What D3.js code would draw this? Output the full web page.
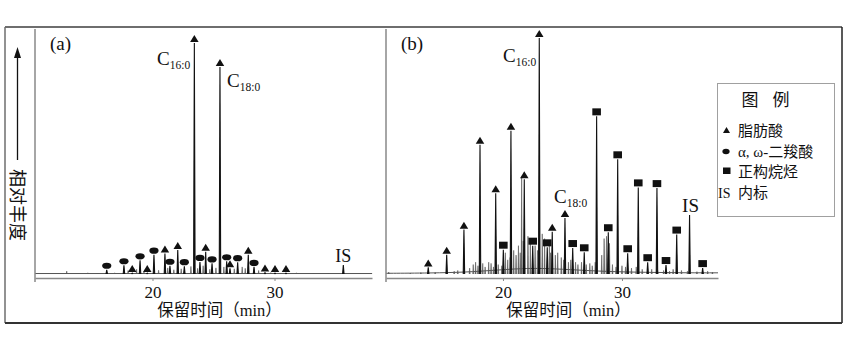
<!DOCTYPE html>
<html><head><meta charset="utf-8">
<script src="https://cdn.jsdelivr.net/npm/d3@7"></script>
<style>
body{margin:0;background:#fff}
svg{display:block}
text{font-family:"Liberation Serif","Noto Sans CJK SC",serif;fill:#111}
.cjk{font-family:"Liberation Serif","Noto Sans CJK SC",sans-serif}
</style></head>
<body><svg id="c" width="848" height="350"></svg>
<script>
// ---------- data (retention time min, relative abundance %) ----------
const tickValues = [20, 30];
const xTitle = "保留时间（min）";
const yTitle = "相对丰度";
const legendTitle = ["图", "例"];
const legendLabels = ["脂肪酸", "α, ω-二羧酸", "正构烷烃", "内标"];

// panel (a)
const aFattyAcid = [[18.34,0.4],[19.57,0.4],[21.02,8.7],[22.07,10.2],[23.43,97.9],[24.36,9.4],[25.53,87.7],[26.35,2.4],[27.85,8.2],[29.22,0.6],[30.04,0.4],[30.94,0.4]];
const aDiacid = [[16.25,1.8],[17.66,3.7],[18.98,5.8],[20.12,8.2],[21.43,3.5],[22.61,3.3],[23.89,5.1],[24.88,4.5],[26.08,5.4],[26.98,5.0],[28.32,3.0]];
const aIS = [[35.64,3.8]];
const aMinor = [[12.97,1.2],[14.7,0.5],[15.5,0.4],[16.9,0.5],[18.0,1.5],[18.7,2.0],[19.3,1.0],[20.5,1.6],[21.25,2.6],[21.75,1.8],[22.35,2.2],[23.15,3.2],[23.7,2.4],[24.15,3.5],[24.7,2.0],[25.2,2.6],[25.85,3.0],[26.7,2.2],[27.35,3.0],[27.6,2.4],[28.7,1.5],[29.7,0.6],[31.8,0.5],[33.2,0.4],[34.4,0.4],[37.0,0.4]];
const aBase = [[10.37,0.2],[38.0,0.2]];

// panel (b)
const bFattyAcid = [[13.72,2.8],[15.27,8.2],[16.72,18.8],[18.07,54.8],[19.39,34.2],[20.67,60.7],[21.79,40.1],[23.05,100],[24.14,17.9],[25.21,23.7]];
const bAlkane = [[20.03,10.3],[22.5,12.0],[23.72,11.3],[25.86,11.0],[26.83,9.2],[27.87,66.8],[28.85,17.7],[29.64,48.6],[30.48,8.8],[31.37,36.7],[32.16,5.0],[32.94,36.4],[33.7,3.8],[34.6,16.7],[36.78,2.5]];
const bIS = [[35.68,25]];
const bMinor = [[10.4,0.8],[12.2,0.4],[13.1,0.6],[14.3,0.7],[15.9,1.2],[16.2,1.5],[17.2,2.5],[17.5,4],[17.7,5],[17.9,3.5],[18.3,4.5],[18.5,3],[18.8,5],[19.0,4.5],[19.2,3],[19.6,4],[19.9,3.5],[20.2,9],[20.4,6],[20.6,7],[20.9,10],[21.1,8],[21.3,12],[21.45,9],[21.57,41.2],[21.7,14],[22.1,16],[22.3,13],[22.7,12],[22.9,10],[23.3,17],[23.5,15],[23.9,12],[24.0,9],[24.4,8],[24.6,9],[24.9,7],[25.1,6],[25.5,5],[25.7,6],[26.1,5],[26.3,4],[26.6,5],[27.0,4],[27.3,4.5],[27.5,3.5],[27.75,5],[28.3,8],[28.5,15],[28.7,16],[28.95,13],[29.2,4],[29.5,3],[30.0,3.5],[30.3,3],[30.8,2.5],[31.2,3],[31.7,2],[32.5,2],[33.0,1.5],[33.5,1.5],[34.0,1.2],[34.3,2],[35.0,1.5],[35.5,1.2],[36.3,1],[37.2,1.2],[37.6,0.8]];
const bBase = [[10.17,0.3],[14,0.4],[17,0.8],[19,1.5],[21,2.2],[23,2.5],[25,2.0],[27,1.5],[29,1.0],[32,0.7],[35,0.5],[38.07,0.5]];

// ---------- drawing ----------
const svg = d3.select("#c");
const y = d3.scaleLinear().domain([0, 100]).range([274, 38]);
const xA = d3.scaleLinear().domain([10.37, 37.99]).range([35, 372]);
const xB = d3.scaleLinear().domain([10.17, 38.07]).range([386, 718]);

// outer frame
svg.append("line").attr("x1",5).attr("y1",27).attr("x2",842).attr("y2",27).attr("stroke","#6e6e6e").attr("stroke-width",2);
svg.append("line").attr("x1",5).attr("y1",27).attr("x2",5).attr("y2",323).attr("stroke","#6e6e6e").attr("stroke-width",1.5);
svg.append("line").attr("x1",842).attr("y1",27).attr("x2",842).attr("y2",323).attr("stroke","#222").attr("stroke-width",1.5);
svg.append("line").attr("x1",5).attr("y1",323).attr("x2",842).attr("y2",323).attr("stroke","#333").attr("stroke-width",2);

function triPath(cx, by, w, h){
  return `M${cx-w/2},${by}L${cx+w/2},${by}L${cx},${by-h}Z`;
}

function panel(x, fatty, diacid, alkane, is, minor, base){
  const g = svg.append("g");
  const line = d3.line().x(d=>x(d[0])).y(d=>y(d[1]));
  const w = 0.06;
  // baseline
  g.append("path").datum(base).attr("d", d3.line().x(d=>x(d[0])).y(d=>y(d[1])).curve(d3.curveBasis))
    .attr("fill","none").attr("stroke","#555").attr("stroke-width",1);
  // minor peaks
  g.selectAll(".mn").data(minor).enter().append("path")
    .attr("d", d=>line([[d[0]-0.04,0],[d[0],d[1]],[d[0]+0.04,0]]))
    .attr("fill","#555").attr("stroke","#555").attr("stroke-width",0.6);
  const major = fatty.concat(diacid, alkane, is);
  g.selectAll(".mj").data(major).enter().append("path")
    .attr("d", d=>line([[d[0]-w,0],[d[0],d[1]],[d[0]+w,0]]))
    .attr("fill","#111").attr("stroke","#111").attr("stroke-width",1.1);
  // markers
  g.selectAll(".tri").data(fatty).enter().append("path")
    .attr("d", d=>triPath(x(d[0]), y(d[1])-1, 8.5, 7)).attr("fill","#111");
  g.selectAll(".ell").data(diacid).enter().append("ellipse")
    .attr("cx", d=>x(d[0])).attr("cy", d=>y(d[1])-4).attr("rx",4.6).attr("ry",3.1).attr("fill","#111");
  g.selectAll(".sq").data(alkane).enter().append("rect")
    .attr("x", d=>x(d[0])-4.3).attr("y", d=>y(d[1])-8).attr("width",8.6).attr("height",7).attr("fill","#111");
  // axes
  const r = x.range();
  g.append("line").attr("x1",r[0]).attr("x2",r[0]).attr("y1",29).attr("y2",282).attr("stroke","#888").attr("stroke-width",1.5);
  const ax = g.append("g").attr("transform","translate(0,278)")
    .call(d3.axisBottom(x).tickValues(tickValues).tickSizeInner(3).tickSizeOuter(0).tickPadding(5).tickFormat(d3.format("d")));
  ax.select(".domain").attr("stroke","#888").attr("stroke-width",1.5);
  ax.selectAll(".tick line").attr("stroke","#888");
  ax.selectAll(".tick text").attr("font-size",17).attr("font-family","Liberation Serif").attr("fill","#111");
  // x title
  g.append("text").attr("x", (x(20)+x(30))/2 + 6).attr("y",316).attr("text-anchor","middle")
    .attr("font-size",16.5).text(xTitle);
  return g;
}

const gA = panel(xA, aFattyAcid, aDiacid, [], aIS, aMinor, aBase);
const gB = panel(xB, bFattyAcid, [], bAlkane, bIS, bMinor, bBase);

// panel labels
svg.append("text").attr("x",50).attr("y",50).attr("font-size",19).text("(a)");
svg.append("text").attr("x",401).attr("y",50).attr("font-size",19).text("(b)");

// compound labels
function cLabel(xp, yp, sub){
  const t = svg.append("text").attr("x",xp).attr("y",yp).attr("font-size",19);
  t.append("tspan").text("C");
  t.append("tspan").attr("font-size",11.5).attr("dy",4).text(sub);
}
cLabel(157, 65, "16:0");
cLabel(227, 87, "18:0");
cLabel(503, 62, "16:0");
cLabel(554, 203, "18:0");
svg.append("text").attr("x",xA(aIS[0][0])).attr("y",262).attr("text-anchor","middle").attr("font-size",18).text("IS");
svg.append("text").attr("x",xB(bIS[0][0])+1).attr("y",212).attr("text-anchor","middle").attr("font-size",19).text("IS");

// y title with arrow
svg.append("line").attr("x1",17.5).attr("x2",17.5).attr("y1",56).attr("y2",160).attr("stroke","#111").attr("stroke-width",1.3);
svg.append("path").attr("d","M17.5,47L21,58L14,58Z").attr("fill","#111");
svg.append("text").attr("transform","translate(11,205) rotate(90)").attr("text-anchor","middle")
  .attr("font-size",18).attr("class","cjk").text(yTitle);

// legend
const lg = svg.append("g");
lg.append("rect").attr("x",717.5).attr("y",83.5).attr("width",117).attr("height",133)
  .attr("fill","#fff").attr("stroke","#a0a0a0").attr("stroke-width",1);
lg.append("text").attr("x",750).attr("y",106).attr("text-anchor","middle").attr("font-size",17).text(legendTitle[0]);
lg.append("text").attr("x",781).attr("y",106).attr("text-anchor","middle").attr("font-size",17).text(legendTitle[1]);
const rowY = [136, 157, 177, 198];
lg.append("path").attr("d", triPath(726.5, rowY[0]-3, 7, 6)).attr("fill","#111");
lg.append("ellipse").attr("cx",726).attr("cy",rowY[1]-5.5).attr("rx",3.6).attr("ry",2.8).attr("fill","#111");
lg.append("rect").attr("x",723).attr("y",rowY[2]-9.5).attr("width",7.5).attr("height",6.5).attr("fill","#111");
lg.append("text").attr("x",718).attr("y",rowY[3]).attr("font-size",14).text("IS");
legendLabels.forEach((s,i)=>{
  lg.append("text").attr("x",738).attr("y",rowY[i]).attr("font-size",15).text(s);
});
</script></body></html>
